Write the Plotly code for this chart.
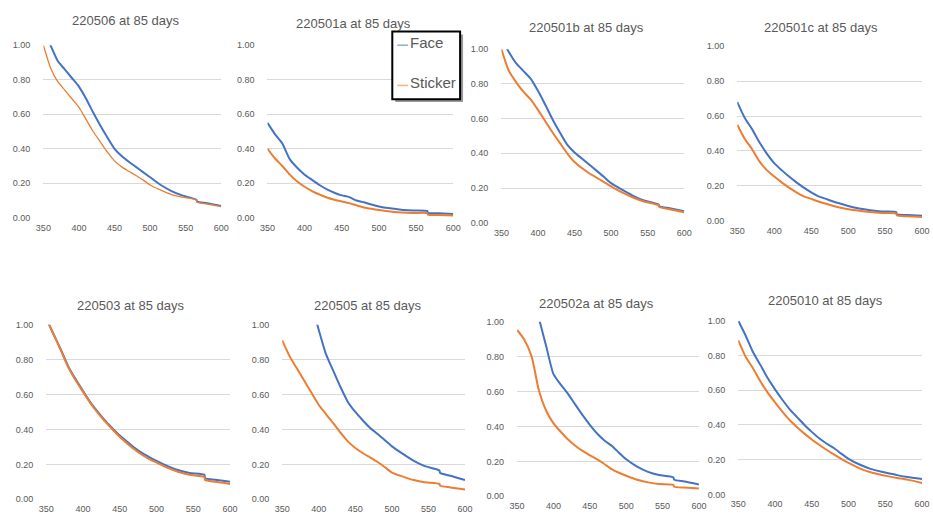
import plotly.graph_objects as go

W, H = 933, 518

wavelength = [350, 360, 370, 380, 390, 400, 410, 420, 430, 440, 450, 460, 470,
              480, 490, 500, 515, 530, 545, 565, 566, 580, 600]

titles = ["220506 at 85 days", "220501a at 85 days", "220501b at 85 days",
          "220501c at 85 days", "220503 at 85 days", "220505 at 85 days",
          "220502a at 85 days", "2205010 at 85 days"]

face_220506 = [1.10, 1.00, 0.91, 0.86, 0.81, 0.76, 0.69, 0.61, 0.535, 0.465, 0.40, 0.358, 0.325,
               0.295, 0.265, 0.235, 0.19, 0.155, 0.13, 0.105, 0.095, 0.085, 0.068]
sticker_220506 = [1.00, 0.87, 0.79, 0.74, 0.69, 0.64, 0.57, 0.50, 0.44, 0.38, 0.33, 0.295, 0.27,
                  0.245, 0.22, 0.19, 0.16, 0.135, 0.12, 0.105, 0.09, 0.08, 0.065]

face_220501a = [0.55, 0.485, 0.43, 0.34, 0.29, 0.25, 0.22, 0.19, 0.165, 0.145, 0.13, 0.12, 0.10,
                0.09, 0.077, 0.066, 0.055, 0.047, 0.043, 0.04, 0.028, 0.026, 0.022]
sticker_220501a = [0.40, 0.345, 0.30, 0.25, 0.21, 0.18, 0.155, 0.135, 0.118, 0.105, 0.095, 0.085, 0.072,
                   0.06, 0.052, 0.045, 0.036, 0.031, 0.028, 0.027, 0.018, 0.016, 0.013]

face_220501b = [1.07, 0.985, 0.92, 0.875, 0.83, 0.76, 0.68, 0.595, 0.52, 0.45, 0.405, 0.37, 0.335,
                0.30, 0.265, 0.228, 0.19, 0.155, 0.128, 0.105, 0.095, 0.083, 0.066]
sticker_220501b = [1.00, 0.877, 0.81, 0.755, 0.71, 0.65, 0.585, 0.52, 0.46, 0.40, 0.35, 0.315, 0.285,
                   0.26, 0.235, 0.21, 0.175, 0.145, 0.122, 0.10, 0.09, 0.078, 0.06]

face_220501c = [0.68, 0.59, 0.525, 0.45, 0.385, 0.33, 0.29, 0.253, 0.22, 0.19, 0.163, 0.14, 0.125,
                0.11, 0.097, 0.085, 0.07, 0.06, 0.053, 0.05, 0.037, 0.033, 0.028]
sticker_220501c = [0.55, 0.47, 0.41, 0.34, 0.29, 0.253, 0.22, 0.19, 0.163, 0.14, 0.125, 0.11, 0.097,
                   0.085, 0.075, 0.066, 0.057, 0.05, 0.045, 0.042, 0.03, 0.026, 0.022]

face_220503 = [1.035, 0.944, 0.856, 0.76, 0.687, 0.62, 0.555, 0.50, 0.45, 0.406, 0.365, 0.33, 0.295,
               0.266, 0.242, 0.22, 0.19, 0.166, 0.15, 0.14, 0.12, 0.112, 0.10]
sticker_220503 = [1.035, 0.944, 0.85, 0.755, 0.68, 0.615, 0.55, 0.495, 0.445, 0.40, 0.357, 0.32, 0.285,
                  0.255, 0.23, 0.21, 0.18, 0.156, 0.14, 0.128, 0.11, 0.10, 0.088]

face_220505 = [None, None, None, None, 1.12, 0.97, 0.83, 0.734, 0.64, 0.556, 0.50, 0.453, 0.41,
               0.375, 0.34, 0.303, 0.26, 0.22, 0.19, 0.165, 0.15, 0.135, 0.11]
sticker_220505 = [0.91, 0.82, 0.75, 0.68, 0.61, 0.54, 0.487, 0.435, 0.38, 0.33, 0.294, 0.265, 0.24,
                  0.215, 0.185, 0.153, 0.13, 0.11, 0.097, 0.088, 0.077, 0.068, 0.056]

face_220502a = [None, None, 1.20, 1.02, 0.86, 0.70, 0.64, 0.587, 0.525, 0.465, 0.41, 0.36, 0.32,
                0.29, 0.25, 0.212, 0.17, 0.14, 0.122, 0.108, 0.095, 0.085, 0.068]
sticker_220502a = [0.953, 0.897, 0.80, 0.606, 0.49, 0.418, 0.37, 0.325, 0.29, 0.26, 0.235, 0.212, 0.185,
                   0.156, 0.135, 0.118, 0.095, 0.08, 0.07, 0.065, 0.055, 0.05, 0.045]

face_2205010 = [1.00, 0.915, 0.82, 0.746, 0.67, 0.605, 0.545, 0.49, 0.445, 0.40, 0.36, 0.323, 0.293,
                0.267, 0.235, 0.205, 0.172, 0.147, 0.13, 0.112, 0.111, 0.10, 0.088]
sticker_2205010 = [0.887, 0.793, 0.727, 0.652, 0.586, 0.53, 0.477, 0.427, 0.387, 0.35, 0.316, 0.286, 0.257,
                   0.23, 0.205, 0.182, 0.15, 0.127, 0.112, 0.095, 0.094, 0.085, 0.066]

face_series = [face_220506, face_220501a, face_220501b, face_220501c,
               face_220503, face_220505, face_220502a, face_2205010]
sticker_series = [sticker_220506, sticker_220501a, sticker_220501b, sticker_220501c,
                  sticker_220503, sticker_220505, sticker_220502a, sticker_2205010]

series_names = ["Face", "Sticker"]

x_ticks = [350, 400, 450, 500, 550, 600]
y_ticks = [0.0, 0.2, 0.4, 0.6, 0.8, 1.0]
y_tick_labels = ["0.00", "0.20", "0.40", "0.60", "0.80", "1.00"]

# pixel boxes: (x of 350, x of 600, y of 1.00, y of 0.00, title x center, title y)
boxes = [(36, 217, 41, 217, 120, 16), (264, 453, 41, 217, 352, 19),
         (502, 688, 45, 222, 589, 23), (742, 930, 42, 220, 827, 23),
         (39, 226, 326, 504, 125, 306), (279, 465, 326, 504, 366, 306),
         (518, 703, 323, 501, 599, 304), (743, 930, 322, 499, 832, 301)]

BLUE = "#4472C4"
ORANGE = "#ED7D31"
GRAY = "#595959"
FONT = "Liberation Sans"

fig = go.Figure()
layout = dict(width=W, height=H, margin=dict(l=0, r=0, t=0, b=0),
              paper_bgcolor="white", plot_bgcolor="white", showlegend=False)
annotations = []

for i, (x0, x1, y0, y1, tx, ty) in enumerate(boxes):
    n = "" if i == 0 else str(i + 1)
    xa = dict(domain=[x0 / W, x1 / W], range=[350, 600], tickvals=x_ticks,
              showgrid=False, zeroline=False, showline=False, ticks="",
              tickfont=dict(family=FONT, size=9, color=GRAY), anchor="y" + n,
              ticklabelstandoff=3)
    ya = dict(domain=[1 - y1 / H, 1 - y0 / H], range=[0, 1.0], tickvals=y_ticks,
              ticktext=y_tick_labels, showgrid=True, gridcolor="#D9D9D9", gridwidth=1,
              zeroline=False, showline=False, ticks="", ticklabelstandoff=12,
              tickfont=dict(family=FONT, size=9, color=GRAY), anchor="x" + n)
    layout["xaxis" + n] = xa
    layout["yaxis" + n] = ya
    fig.add_trace(go.Scatter(x=wavelength, y=face_series[i], mode="lines", name=series_names[0],
                             line=dict(color=BLUE, width=2, shape="spline", smoothing=0.6),
                             xaxis="x" + n, yaxis="y" + n,
                             connectgaps=False, hoverinfo="skip"))
    fig.add_trace(go.Scatter(x=wavelength, y=sticker_series[i], mode="lines", name=series_names[1],
                             line=dict(color=ORANGE, width=1.3 if i == 0 else 2,
                                       shape="spline", smoothing=0.6),
                             xaxis="x" + n, yaxis="y" + n, hoverinfo="skip"))
    annotations.append(dict(text=titles[i], x=tx / W, y=1 - ty / H,
                            xref="paper", yref="paper", showarrow=False,
                            xanchor="center", yanchor="middle",
                            font=dict(family=FONT, size=13, color=GRAY)))

# legend box (drawn as shapes + text)
def px(x):
    return x / W

def py(y):
    return 1 - y / H

shapes = [
    dict(type="rect", xref="paper", yref="paper", x0=px(394), x1=px(463), y0=py(99), y1=py(30),
         fillcolor="#9A9A9A", line=dict(width=0), layer="above"),
    dict(type="rect", xref="paper", yref="paper", x0=px(391), x1=px(460), y0=py(96), y1=py(27),
         fillcolor="white", line=dict(color="black", width=2), layer="above"),
    dict(type="line", xref="paper", yref="paper", x0=px(396), x1=px(407), y0=py(41), y1=py(41),
         line=dict(color="#8FAADC", width=1.5), layer="above"),
    dict(type="line", xref="paper", yref="paper", x0=px(396), x1=px(407), y0=py(82), y1=py(82),
         line=dict(color="#F4B183", width=1.5), layer="above"),
]
for name, yy in zip(series_names, [38, 79]):
    annotations.append(dict(text=name, x=px(407), y=py(yy), xref="paper", yref="paper",
                            showarrow=False, xanchor="left", yanchor="middle",
                            font=dict(family=FONT, size=15, color=GRAY)))

layout["annotations"] = annotations
layout["shapes"] = shapes
fig.update_layout(**layout)
fig.write_html("out.html")
